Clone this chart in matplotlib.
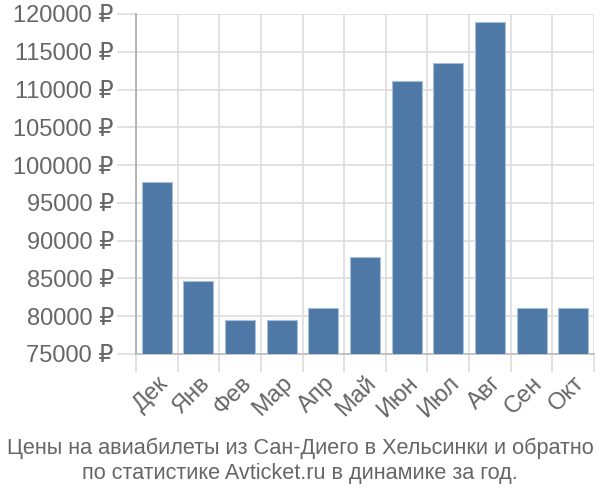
import numpy as np
import matplotlib.pyplot as plt

plt.rcParams['font.family'] = ['Liberation Sans', 'DejaVu Sans']

months = ['Дек', 'Янв', 'Фев', 'Мар', 'Апр', 'Май', 'Июн', 'Июл', 'Авг', 'Сен', 'Окт']
prices = [97800, 84600, 79500, 79500, 81100, 87900, 111150, 113500, 118900, 81100, 81100]
yticks = np.arange(75000, 120001, 5000)

grid_c = '#dddddd'
text_c = '#666666'

fig = plt.figure(figsize=(6, 5), dpi=100)
ax = fig.add_axes([0.2267, 0.292, 0.7633, 0.68])

x = np.arange(len(months))
ax.bar(x, prices, width=0.72, color='#4e79a7', edgecolor='#a9bfd8', linewidth=0.8, zorder=3)

ax.set_xlim(-0.5, len(months) - 0.5)
ax.set_ylim(75000, 120000)
ax.set_yticks(yticks)
ax.set_yticklabels([f'{v} ₽' for v in yticks], color=text_c, fontsize=17)
ax.set_xticks(x)
ax.set_xticklabels(months, rotation=45, ha='right', va='top', rotation_mode='anchor',
                   color=text_c, fontsize=17)
ax.set_xticks(np.arange(-0.5, len(months)), minor=True)

ax.tick_params(axis='x', which='major', length=0, pad=13)
ax.tick_params(axis='x', which='minor', length=13, color=grid_c, width=1.2)
ax.tick_params(axis='y', length=14, color=grid_c, width=1.2, pad=2)

ax.grid(axis='y', color=grid_c, linewidth=1.2, zorder=0)
ax.grid(axis='x', which='minor', color=grid_c, linewidth=1.2, zorder=0)

for s in ['top', 'right']:
    ax.spines[s].set_visible(False)
ax.spines['left'].set_color('#aaaaaa')
ax.spines['left'].set_linewidth(1.2)
ax.spines['bottom'].set_color('#bbbbbb')
ax.spines['bottom'].set_linewidth(1.2)

fig.text(0.5, 0.078, 'Цены на авиабилеты из Сан-Диего в Хельсинки и обратно\nпо статистике Avticket.ru в динамике за год.',
         ha='center', va='center', color=text_c, fontsize=15.6, linespacing=1.25)

fig.savefig('out.png', dpi=100)
